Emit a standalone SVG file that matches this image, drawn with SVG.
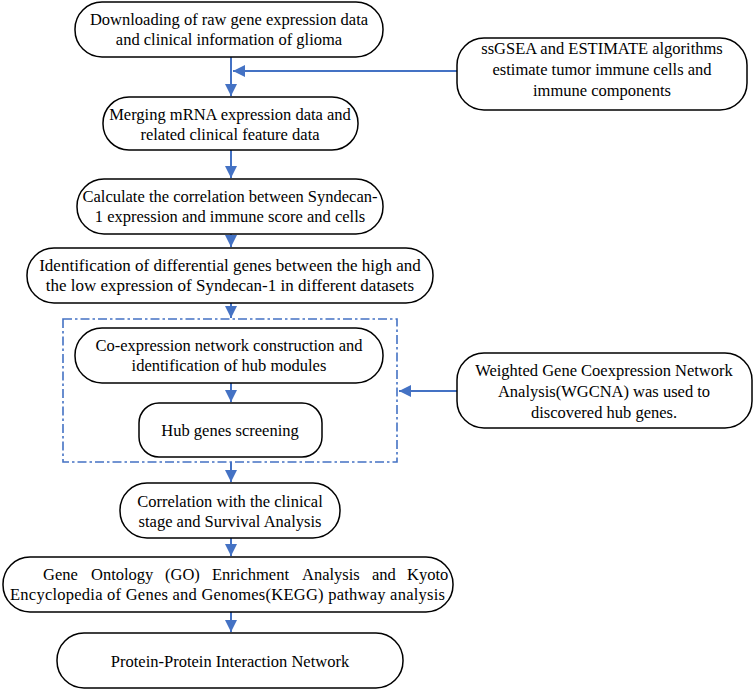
<svg xmlns="http://www.w3.org/2000/svg" width="754" height="691" viewBox="0 0 754 691">
<defs>
<style>
.box{fill:#fff;stroke:#000;stroke-width:1.5}
.t{font-family:"Liberation Serif","Times New Roman",serif;font-size:16.5px;fill:#000;text-anchor:middle}
.tl{font-family:"Liberation Serif","Times New Roman",serif;font-size:16.5px;fill:#000}
.c{stroke:#4472C4;stroke-width:2;fill:none}
.dash{fill:none;stroke:#4472C4;stroke-width:1.6;stroke-dasharray:9 3 2.5 3}
</style>
<marker id="ah" viewBox="0 0 10 10" refX="10" refY="5" markerWidth="6" markerHeight="6" markerUnits="strokeWidth" orient="auto">
<path d="M0,0 L10,5 L0,10 z" fill="#4472C4"/>
</marker>
</defs>
<rect width="754" height="691" fill="#fff"/>
<g id="connectors">
<line class="c" x1="231" y1="57" x2="231" y2="96" marker-end="url(#ah)"/>
<line class="c" x1="457" y1="71" x2="233" y2="71" marker-end="url(#ah)"/>
<line class="c" x1="231" y1="150" x2="231" y2="178" marker-end="url(#ah)"/>
<line class="c" x1="231" y1="234" x2="231" y2="247" marker-end="url(#ah)"/>
<line class="c" x1="231" y1="303" x2="231" y2="318" marker-end="url(#ah)"/>
<line class="c" x1="231" y1="383" x2="231" y2="402" marker-end="url(#ah)"/>
<line class="c" x1="457" y1="391" x2="399" y2="391" marker-end="url(#ah)"/>
<line class="c" x1="231" y1="462" x2="231" y2="482" marker-end="url(#ah)"/>
<line class="c" x1="231" y1="538" x2="231" y2="556" marker-end="url(#ah)"/>
<line class="c" x1="231" y1="612" x2="231" y2="632" marker-end="url(#ah)"/>
</g>
<g id="group-wgcna">
<rect class="dash" x="63" y="319" width="334" height="143"/>
</g>
<g id="n1">
<rect class="box" x="75" y="2" width="308" height="55" rx="27" ry="27"/>
<text class="t" x="229" y="25">Downloading of raw gene expression data</text>
<text class="t" x="229" y="45">and clinical information  of glioma</text>
</g>
<g id="n-ssgsea">
<rect class="box" x="457" y="38" width="290" height="72" rx="27" ry="27"/>
<text class="t" x="602" y="54">ssGSEA and ESTIMATE algorithms</text>
<text class="t" x="602" y="75">estimate tumor immune cells and</text>
<text class="t" x="602" y="96">immune components</text>
</g>
<g id="n2">
<rect class="box" x="103" y="97" width="255" height="53" rx="26" ry="26"/>
<text class="t" x="230" y="120">Merging mRNA expression data and</text>
<text class="t" x="230" y="140">related clinical feature data</text>
</g>
<g id="n3">
<rect class="box" x="77" y="179" width="306" height="55" rx="27" ry="27"/>
<text class="t" x="230" y="202">Calculate the correlation between Syndecan-</text>
<text class="t" x="230" y="222">1 expression and  immune score and cells</text>
</g>
<g id="n4">
<rect class="box" x="27" y="248" width="406" height="55" rx="27" ry="27"/>
<text class="t" x="230" y="271" style="font-size:17px">Identification of differential genes between the high and</text>
<text class="t" x="230" y="291" style="font-size:17px">the low expression of Syndecan-1 in different datasets</text>
</g>
<g id="n5">
<rect class="box" x="75" y="328" width="308" height="55" rx="27" ry="27"/>
<text class="t" x="229" y="351">Co-expression network construction and</text>
<text class="t" x="229" y="371">identification of hub modules</text>
</g>
<g id="n6">
<rect class="box" x="139" y="403" width="183" height="54" rx="20" ry="20"/>
<text class="t" x="230" y="436">Hub genes screening</text>
</g>
<g id="n-wgcna">
<rect class="box" x="457" y="353" width="295" height="75" rx="27" ry="27"/>
<text class="t" x="604" y="376">Weighted Gene Coexpression Network</text>
<text class="t" x="604" y="397">Analysis(WGCNA) was used to</text>
<text class="t" x="604" y="418">discovered hub genes.</text>
</g>
<g id="n7">
<rect class="box" x="120" y="483" width="220" height="55" rx="27" ry="27"/>
<text class="t" x="230" y="507">Correlation with the clinical</text>
<text class="t" x="230" y="527">stage and Survival Analysis</text>
</g>
<g id="n8">
<rect class="box" x="3" y="557" width="450" height="55" rx="27" ry="27"/>
<text class="tl" y="580"><tspan x="43">Gene</tspan><tspan x="91">Ontology</tspan><tspan x="165">(GO)</tspan><tspan x="212">Enrichment</tspan><tspan x="302">Analysis</tspan><tspan x="372">and</tspan><tspan x="407">Kyoto</tspan></text>
<text class="tl" x="10" y="600" textLength="435" lengthAdjust="spacing">Encyclopedia of Genes and Genomes(KEGG) pathway analysis</text>
</g>
<g id="n9">
<rect class="box" x="57" y="633" width="346" height="55" rx="27" ry="27"/>
<text class="t" x="230" y="667">Protein-Protein Interaction Network</text>
</g>
</svg>
